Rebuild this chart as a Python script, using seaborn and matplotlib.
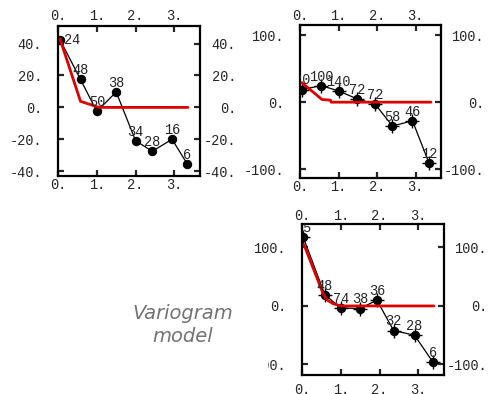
import numpy as np
import pandas as pd
import matplotlib
matplotlib.use("Agg")
import matplotlib.pyplot as plt
import matplotlib.transforms as mtransforms
import seaborn as sns
from matplotlib.patches import Rectangle

# experimental variogram points (lag, gamma, number of pairs) for the three panels
lag1 = [0.05, 0.58, 1.0, 1.5, 2.0, 2.43, 2.94, 3.33]
gamma1 = [42.5, 17.5, -2.5, 9.6, -20.9, -27.5, -20.0, -35.4]
pairs1 = ["24", "48", "50", "38", "34", "28", "16", "6"]
model_lag1 = [0.05, 0.58, 1.05, 3.35]
model_gamma1 = [43, 3.8, 0, 0]

lag2 = [0.05, 0.55, 1.0, 1.48, 1.95, 2.4, 2.92, 3.35]
gamma2 = [18.8, 24.7, 16.8, 4.9, -3.0, -35.6, -27.7, -91.0]
pairs2 = ["20", "100", "140", "72", "72", "58", "46", "12"]
model_lag2 = [0.05, 0.57, 0.79, 0.81, 3.4]
model_gamma2 = [29, 4, 3, 0, 0]

lag3 = [0.03, 0.59, 1.0, 1.5, 1.93, 2.36, 2.9, 3.38]
gamma3 = [118, 19, -3.4, -4.5, 10, -42, -50, -96.6]
pairs3 = ["15", "48", "74", "38", "36", "32", "28", "6"]
model_lag3 = [0.05, 0.55, 0.65, 0.8, 1.0, 3.4]
model_gamma3 = [105, 20, 10, 4, 0, 0]

xticks = [0, 1, 2, 3]
xtick_labels = ["0.", "1.", "2.", "3."]
yticks1 = [-40, -20, 0, 20, 40]
ytick_labels1 = ["-40.", "-20.", "0.", "20.", "40."]
yticks23 = [-100, 0, 100]
ytick_labels23 = ["-100.", "0.", "100."]

sns.set_style("ticks")
plt.rcParams['font.family'] = ['Liberation Mono', 'DejaVu Sans']

W, H = 493, 394
FS = 9.8
fig = plt.figure(figsize=(W / 100, H / 100), dpi=100)


def px_axes(left, top, right, bottom):
    return fig.add_axes([left / W, 1 - bottom / H, (right - left) / W, (bottom - top) / H])


def panel(ax, lag, gamma, pairs, mlag, mgamma, ylim, yticks, ylabels,
          bottom_pad, star=False, first_left=False):
    df = pd.DataFrame({"lag": lag, "gamma": gamma})
    mdf = pd.DataFrame({"lag": mlag, "gamma": mgamma})
    sns.lineplot(data=df, x="lag", y="gamma", ax=ax, color="black", lw=0.9,
                 marker="o", markersize=6, markeredgecolor="black",
                 sort=False, estimator=None, zorder=3)
    if star:
        sns.scatterplot(data=df, x="lag", y="gamma", ax=ax, marker="+", s=90,
                        color="black", linewidth=1.0, zorder=4)
    sns.lineplot(data=mdf, x="lag", y="gamma", ax=ax, color="#dd0000", lw=2,
                 sort=False, estimator=None, zorder=5)
    for i, (x, y, t) in enumerate(zip(lag, gamma, pairs)):
        if first_left and i == 0:
            ax.annotate(t, (x, y), xytext=(3, 0), textcoords="offset points",
                        ha="left", va="center", fontsize=FS,
                        annotation_clip=False, clip_on=True, zorder=6)
        else:
            ax.annotate(t, (x, y), xytext=(0, 1.5), textcoords="offset points",
                        ha="center", va="bottom", fontsize=FS,
                        annotation_clip=False, clip_on=True, zorder=6)
    ax.set_xlim(0, 3.66)
    ax.set_ylim(*ylim)
    ax.set_xticks(xticks)
    ax.set_xticklabels(xtick_labels)
    ax.set_yticks(yticks)
    ax.set_yticklabels(ylabels)
    ax.set_xlabel("")
    ax.set_ylabel("")
    for s in ax.spines.values():
        s.set_linewidth(1.6)
        s.set_color("black")
    ax.tick_params(direction="in", length=4, width=1.6, labelsize=FS,
                   top=True, right=True, labeltop=True, labelright=True)
    ax.yaxis.set_tick_params(pad=11.5)
    ax.xaxis.set_tick_params(pad=bottom_pad)


ax1 = px_axes(58, 26, 200, 176)
ax2 = px_axes(300, 25, 441, 178)
ax3 = px_axes(302, 224, 444, 375)

panel(ax1, lag1, gamma1, pairs1, model_lag1, model_gamma1, (-43, 51),
      yticks1, ytick_labels1, 1.5, first_left=True)
panel(ax2, lag2, gamma2, pairs2, model_lag2, model_gamma2, (-113, 115),
      yticks23, ytick_labels23, 1.5, star=True)
panel(ax3, lag3, gamma3, pairs3, model_lag3, model_gamma3, (-118, 140),
      yticks23, ytick_labels23, 5.5, star=True)

# right-hand labels are right aligned at a fixed distance (px) from the frame
right_pads = {ax1: 36, ax2: 43, ax3: 43}
top_pads = {ax1: 3, ax2: 1.5, ax3: 1.5}
fig.canvas.draw()
for ax in (ax1, ax2, ax3):
    off = mtransforms.ScaledTranslation(right_pads[ax] / 100, 0, fig.dpi_scale_trans)
    base = ax.get_yaxis_transform(which="tick2")
    for t in ax.yaxis.get_major_ticks():
        t.label2.set_transform(base + off)
        t.label2.set_horizontalalignment("right")
    offt = mtransforms.ScaledTranslation(0, top_pads[ax] / 100, fig.dpi_scale_trans)
    baset = ax.get_xaxis_transform(which="tick2")
    for t in ax.xaxis.get_major_ticks():
        t.label2.set_transform(baset + offt)
        t.label2.set_verticalalignment("bottom")

fig.text(183 / W, 1 - 325 / H, "Variogram\nmodel", ha="center", va="center",
         fontsize=14, style="italic", color="#737373", family="DejaVu Sans",
         linespacing=1.25)

# the left label of the lower panel is partly hidden in the original
fig.patches.append(Rectangle((200 / W, 1 - 373 / H), 68 / W, 20 / H,
                             transform=fig.transFigure, facecolor="white",
                             edgecolor="none", zorder=10))

fig.savefig("out.png", dpi=100)
